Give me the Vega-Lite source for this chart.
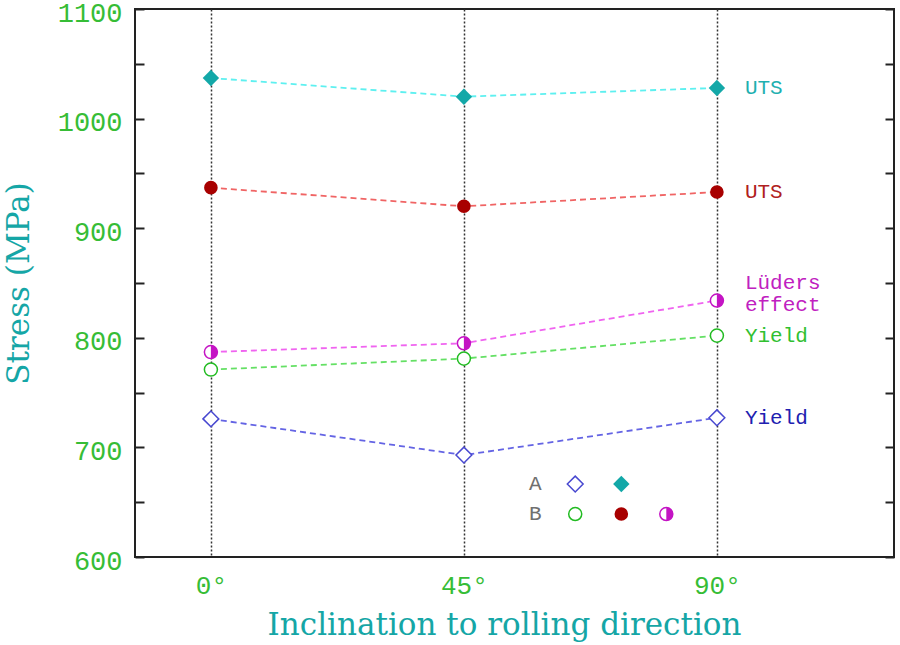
{
  "$schema": "https://vega.github.io/schema/vega-lite/v6.json",
  "autosize": {"type": "none"},
  "padding": {"left": 135, "top": 9, "right": 6, "bottom": 88},
  "width": 759,
  "height": 548,
  "background": "white",
  "datasets": {
    "pts": [
      {"series": "A UTS", "role": "data", "angle": 0, "stress": 1037},
      {"series": "A UTS", "role": "data", "angle": 45, "stress": 1020},
      {"series": "A UTS", "role": "data", "angle": 90, "stress": 1028},
      {"series": "B UTS", "role": "data", "angle": 0, "stress": 937},
      {"series": "B UTS", "role": "data", "angle": 45, "stress": 920},
      {"series": "B UTS", "role": "data", "angle": 90, "stress": 933},
      {"series": "B Luders", "role": "data", "angle": 0, "stress": 787},
      {"series": "B Luders", "role": "data", "angle": 45, "stress": 795},
      {"series": "B Luders", "role": "data", "angle": 90, "stress": 834},
      {"series": "B Yield", "role": "data", "angle": 0, "stress": 771},
      {"series": "B Yield", "role": "data", "angle": 45, "stress": 781},
      {"series": "B Yield", "role": "data", "angle": 90, "stress": 802},
      {"series": "A Yield", "role": "data", "angle": 0, "stress": 726},
      {"series": "A Yield", "role": "data", "angle": 45, "stress": 693},
      {"series": "A Yield", "role": "data", "angle": 90, "stress": 727},
      {"series": "A Yield", "role": "legend", "angle": 64.8, "stress": 666.6},
      {"series": "A UTS", "role": "legend", "angle": 73.0, "stress": 666.6},
      {"series": "B Yield", "role": "legend", "angle": 64.8, "stress": 639.2},
      {"series": "B UTS", "role": "legend", "angle": 73.0, "stress": 639.2},
      {"series": "B Luders", "role": "legend", "angle": 81.0, "stress": 639.2}
    ],
    "labels": [
      {"series": "A UTS", "text": "UTS", "angle": 90, "stress": 1028},
      {"series": "B UTS", "text": "UTS", "angle": 90, "stress": 933},
      {"series": "B Luders", "text": "Lüders\neffect", "angle": 90, "stress": 850},
      {"series": "B Yield", "text": "Yield", "angle": 90, "stress": 802},
      {"series": "A Yield", "text": "Yield", "angle": 90, "stress": 727}
    ],
    "keys": [
      {"text": "A", "angle": 57.7, "stress": 666.6},
      {"text": "B", "angle": 57.7, "stress": 639.2}
    ]
  },
  "resolve": {"axis": {"y": "independent"}},
  "layer": [
    {
      "data": {"name": "pts"},
      "transform": [{"filter": "datum.role == 'data'"}],
      "mark": {"type": "line", "strokeDash": [6, 4], "strokeWidth": 1.8},
      "encoding": {
        "x": {
          "field": "angle",
          "type": "quantitative",
          "scale": {"domain": [-13.5, 121.5], "nice": false, "zero": false},
          "axis": {
            "values": [0, 45, 90],
            "labelExpr": "datum.value + '°'",
            "title": "Inclination to rolling direction",
            "grid": true,
            "gridColor": "#333",
            "gridDash": [2, 2],
            "gridWidth": 1.5,
            "ticks": false,
            "domain": false,
            "labelFont": "Liberation Mono",
            "labelFontSize": 26,
            "labelColor": "#36bd36",
            "labelPadding": 15,
            "titleFont": "DejaVu Serif",
            "titleFontSize": 31,
            "titleFontWeight": "normal",
            "titleColor": "#15a6a6",
            "titlePadding": 12,
            "titleX": 369
          }
        },
        "y": {
          "field": "stress",
          "type": "quantitative",
          "scale": {"domain": [600, 1100], "nice": false, "zero": false},
          "axis": {
            "orient": "left",
            "values": [600, 650, 700, 750, 800, 850, 900, 950, 1000, 1050, 1100],
            "labelExpr": "datum.value % 100 == 0 ? datum.label : ''",
            "format": "d",
            "grid": false,
            "domain": false,
            "ticks": true,
            "tickSize": -9,
            "tickWidth": 2,
            "tickColor": "#222",
            "labelFont": "Liberation Mono",
            "labelFontSize": 27,
            "labelColor": "#36bd36",
            "labelPadding": 22,
            "labelOffset": 4,
            "title": "Stress (MPa)",
            "titleFont": "DejaVu Serif",
            "titleFontSize": 31,
            "titleFontWeight": "normal",
            "titleColor": "#15a6a6",
            "titlePadding": 22
          }
        },
        "stroke": {
          "field": "series",
          "type": "nominal",
          "legend": null,
          "scale": {
            "domain": ["A UTS", "B UTS", "B Luders", "B Yield", "A Yield"],
            "range": ["#5ef0f0", "#f06464", "#f064f0", "#64e064", "#6464e4"]
          }
        }
      }
    },
    {
      "data": {"name": "pts"},
      "transform": [{"filter": "datum.series == 'A UTS'"}],
      "mark": {"type": "point", "shape": "diamond", "filled": true, "size": 270, "color": "#13a8a8", "opacity": 1},
      "encoding": {
        "x": {"field": "angle", "type": "quantitative"},
        "y": {
          "field": "stress",
          "type": "quantitative",
          "axis": {
            "orient": "right",
            "values": [600, 650, 700, 750, 800, 850, 900, 950, 1000, 1050, 1100],
            "labels": false,
            "title": null,
            "grid": false,
            "domain": false,
            "ticks": true,
            "tickSize": -9,
            "tickWidth": 2,
            "tickColor": "#222"
          }
        }
      }
    },
    {
      "data": {"name": "pts"},
      "transform": [{"filter": "datum.series == 'B UTS'"}],
      "mark": {"type": "point", "shape": "circle", "filled": true, "size": 185, "color": "#a80000", "opacity": 1},
      "encoding": {
        "x": {"field": "angle", "type": "quantitative"},
        "y": {"field": "stress", "type": "quantitative", "axis": null}
      }
    },
    {
      "data": {"name": "pts"},
      "transform": [{"filter": "datum.series == 'B Luders'"}],
      "mark": {"type": "point", "shape": "circle", "filled": false, "fill": "white", "size": 170, "stroke": "#c414c4", "strokeWidth": 1.5, "opacity": 1},
      "encoding": {
        "x": {"field": "angle", "type": "quantitative"},
        "y": {"field": "stress", "type": "quantitative", "axis": null}
      }
    },
    {
      "data": {"name": "pts"},
      "transform": [{"filter": "datum.series == 'B Luders'"}],
      "mark": {"type": "point", "shape": "M0,-1A1,1,0,0,1,0,1Z", "filled": true, "size": 170, "color": "#c414c4", "opacity": 1},
      "encoding": {
        "x": {"field": "angle", "type": "quantitative"},
        "y": {"field": "stress", "type": "quantitative", "axis": null}
      }
    },
    {
      "data": {"name": "pts"},
      "transform": [{"filter": "datum.series == 'B Yield'"}],
      "mark": {"type": "point", "shape": "circle", "filled": false, "fill": "white", "size": 170, "stroke": "#22bb22", "strokeWidth": 1.5, "opacity": 1},
      "encoding": {
        "x": {"field": "angle", "type": "quantitative"},
        "y": {"field": "stress", "type": "quantitative", "axis": null}
      }
    },
    {
      "data": {"name": "pts"},
      "transform": [{"filter": "datum.series == 'A Yield'"}],
      "mark": {"type": "point", "shape": "diamond", "filled": false, "fill": "white", "size": 250, "stroke": "#4848d0", "strokeWidth": 1.5, "opacity": 1},
      "encoding": {
        "x": {"field": "angle", "type": "quantitative"},
        "y": {"field": "stress", "type": "quantitative", "axis": null}
      }
    },
    {
      "data": {"name": "labels"},
      "mark": {"type": "text", "align": "left", "baseline": "middle", "dx": 28, "font": "Liberation Mono", "fontSize": 21, "lineBreak": "\n", "lineHeight": 22, "letterSpacing": 1.5},
      "encoding": {
        "x": {"field": "angle", "type": "quantitative"},
        "y": {"field": "stress", "type": "quantitative", "axis": null},
        "text": {"field": "text"},
        "color": {
          "field": "series",
          "type": "nominal",
          "legend": null,
          "scale": {
            "domain": ["A UTS", "B UTS", "B Luders", "B Yield", "A Yield"],
            "range": ["#1eb0b0", "#b02020", "#c020c0", "#30c030", "#2020b0"]
          }
        }
      }
    },
    {
      "data": {"name": "keys"},
      "mark": {"type": "text", "align": "center", "baseline": "middle", "font": "Liberation Mono", "fontSize": 21, "color": "#707070"},
      "encoding": {
        "x": {"field": "angle", "type": "quantitative"},
        "y": {"field": "stress", "type": "quantitative", "axis": null},
        "text": {"field": "text"}
      }
    }
  ],
  "config": {
    "view": {"stroke": "#222", "strokeWidth": 2},
    "axis": {"labelFontWeight": "normal"}
  }
}
